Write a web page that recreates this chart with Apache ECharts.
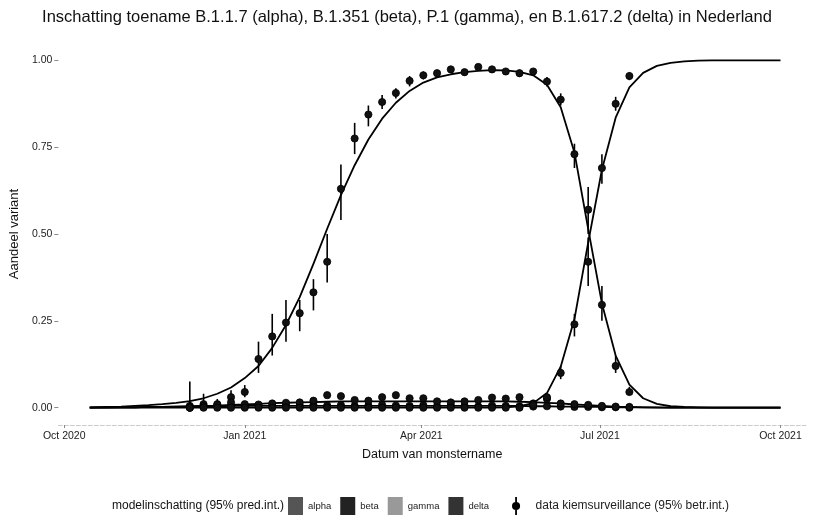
<!DOCTYPE html>
<html><head><meta charset="utf-8">
<script src="https://cdn.jsdelivr.net/npm/echarts@6/dist/echarts.min.js"></script>
<style>html,body{margin:0;padding:0;background:#fff}#c{width:814px;height:520px}</style>
</head><body><div id="c"></div>
<script>
// ---- data ----
const titleText = 'Inschatting toename B.1.1.7 (alpha), B.1.351 (beta), P.1 (gamma), en B.1.617.2 (delta) in Nederland';
const xTickDates = ['2020-10-01','2021-01-01','2021-04-01','2021-07-01','2021-10-01'];
const xTickLabels = ['Oct 2020','Jan 2021','Apr 2021','Jul 2021','Oct 2021'];
const yTicks = [0, 0.25, 0.5, 0.75, 1.0];
const yTickLabels = ['0.00','0.25','0.50','0.75','1.00'];
const variants = ['alpha','beta','gamma','delta'];
const dataName = 'data kiemsurveillance (95% betr.int.)';

const modelDates = ['2020-10-14','2020-10-23','2020-10-30','2020-11-06','2020-11-13','2020-11-20','2020-11-27',
 '2020-12-04','2020-12-11','2020-12-18','2020-12-25','2021-01-01','2021-01-08','2021-01-15','2021-01-22','2021-01-29',
 '2021-02-05','2021-02-12','2021-02-19','2021-02-26','2021-03-05','2021-03-12','2021-03-19','2021-03-26',
 '2021-04-02','2021-04-09','2021-04-16','2021-04-23','2021-04-30','2021-05-07','2021-05-14','2021-05-21','2021-05-28',
 '2021-06-04','2021-06-11','2021-06-18','2021-06-25','2021-07-02','2021-07-09','2021-07-16','2021-07-23','2021-07-30',
 '2021-08-06','2021-08-13','2021-08-20','2021-08-27','2021-09-03','2021-09-10','2021-09-17','2021-09-24','2021-10-01'];
const alphaModel = [0.001,0.002,0.003,0.005,0.007,0.010,0.014,0.019,0.027,0.040,0.058,
 0.085,0.120,0.172,0.238,0.318,0.414,0.515,0.612,0.698,0.772,
 0.832,0.878,0.912,0.936,0.951,0.960,0.966,0.970,0.972,0.971,
 0.967,0.957,0.930,0.865,0.735,0.515,0.300,0.150,0.066,0.027,
 0.011,0.004,0.002,0.001,0,0,0,0,0,0];
const betaModel = [0,0,0.001,0.001,0.002,0.002,0.003,0.003,0.004,0.004,
 0.005,0.005,0.005,0.005,0.005,0.005,0.005,0.005,0.005,0.005,0.005,0.005,0.005,0.005,0.005,0.005,0.005,0.005,0.005,0.005,0.005,
 0.005,0.004,0.004,0.003,0.003,0.002,0.002,0.001,0.001,0.001,
 0,0,0,0,0,0,0,0,0,0];
const gammaModel = [0,0.0005,0.001,0.001,0.002,0.002,0.003,0.004,0.005,0.006,0.008,0.009,0.011,0.013,0.014,0.015,0.016,0.017,
 0.018,0.018,0.018,0.018,0.018,0.018,0.018,0.018,0.018,0.018,0.018,0.018,0.018,
 0.017,0.016,0.014,0.012,0.009,0.007,0.005,0.003,0.002,0.001,
 0.0005,0,0,0,0,0,0,0,0,0];
const deltaModel = [0,0,0,0,0,0,0,0,0,0,0,0,0,0,0,0,0,0,0,0,0,0,0,0,0,0,0,0,0,0,
 0.001,0.004,0.013,0.042,0.118,0.255,0.475,0.685,0.835,0.922,0.964,0.984,0.993,0.997,0.999,
 1,1,1,1,1,1];

const dataDates = ['2020-12-04','2020-12-11','2020-12-18','2020-12-25','2021-01-01','2021-01-08','2021-01-15','2021-01-22',
 '2021-01-29','2021-02-05','2021-02-12','2021-02-19','2021-02-26','2021-03-05','2021-03-12','2021-03-19','2021-03-26',
 '2021-04-02','2021-04-09','2021-04-16','2021-04-23','2021-04-30','2021-05-07','2021-05-14','2021-05-21','2021-05-28',
 '2021-06-04','2021-06-11','2021-06-18','2021-06-25','2021-07-02','2021-07-09','2021-07-16'];
const alphaVal = [0.005,0.010,0.010,0.030,0.045,0.140,0.205,0.245,0.272,0.332,0.420,0.630,0.775,0.844,0.880,0.906,0.941,0.957,0.963,0.974,0.966,0.981,0.974,0.968,0.963,0.968,0.939,0.887,0.730,0.420,0.296,0.120,0.045];
const alphaLo  = [0.000,0.000,0.000,0.015,0.030,0.100,0.150,0.190,0.220,0.280,0.360,0.540,0.730,0.810,0.860,0.890,0.925,0.945,0.952,0.965,0.956,0.973,0.965,0.958,0.952,0.958,0.925,0.870,0.690,0.350,0.250,0.100,0.035];
const alphaHi  = [0.075,0.040,0.025,0.050,0.065,0.190,0.270,0.310,0.310,0.370,0.500,0.700,0.820,0.870,0.900,0.920,0.955,0.968,0.973,0.982,0.975,0.988,0.982,0.977,0.973,0.977,0.952,0.905,0.760,0.490,0.350,0.150,0.060];
const betaVal = [0.000,0.003,0.004,0.005,0.003,0.006,0.005,0.007,0.006,0.008,0.006,0.007,0.005,0.006,0.008,0.006,0.005,0.007,0.004,0.006,0.005,0.004,0.006,0.005,0.004,0.003,0.004,0.003,0.002,0.002,0.001,0.001,0.000];
const betaLo  = [0.000,0.000,0.000,0.001,0.000,0.002,0.002,0.003,0.003,0.004,0.003,0.004,0.002,0.003,0.004,0.003,0.002,0.003,0.002,0.003,0.002,0.001,0.003,0.002,0.001,0.001,0.001,0.001,0.000,0.000,0.000,0.000,0.000];
const betaHi  = [0.012,0.010,0.010,0.011,0.008,0.011,0.009,0.012,0.010,0.013,0.010,0.011,0.009,0.010,0.012,0.010,0.009,0.011,0.008,0.010,0.009,0.008,0.010,0.009,0.008,0.007,0.008,0.007,0.006,0.006,0.005,0.005,0.004];
const gammaVal = [0.000,0.004,0.008,0.015,0.010,0.009,0.012,0.014,0.015,0.020,0.036,0.033,0.022,0.020,0.030,0.036,0.027,0.027,0.018,0.015,0.018,0.022,0.029,0.026,0.030,0.012,0.025,0.012,0.010,0.008,0.005,0.003,0.002];
const gammaLo  = [0.000,0.000,0.002,0.007,0.004,0.004,0.007,0.009,0.010,0.014,0.029,0.027,0.017,0.015,0.024,0.030,0.022,0.022,0.013,0.011,0.013,0.017,0.023,0.021,0.024,0.008,0.019,0.008,0.006,0.004,0.002,0.001,0.000];
const gammaHi  = [0.010,0.013,0.016,0.024,0.017,0.015,0.018,0.020,0.021,0.027,0.044,0.040,0.028,0.026,0.037,0.043,0.033,0.033,0.024,0.020,0.024,0.028,0.036,0.032,0.037,0.017,0.032,0.017,0.015,0.013,0.010,0.007,0.006];
const deltaVal = [0,0,0,0,0,0,0,0,0,0,0,0,0,0,0,0,0,0,0,0,0,0,0,0,0,0.008,0.030,0.100,0.240,0.570,0.690,0.875,0.955];
const deltaLo  = [0,0,0,0,0,0,0,0,0,0,0,0,0,0,0,0,0,0,0,0,0,0,0,0,0,0.003,0.022,0.082,0.205,0.500,0.645,0.855,0.943];
const deltaHi  = [0.004,0.004,0.004,0.004,0.004,0.004,0.004,0.004,0.004,0.004,0.004,0.004,0.004,0.004,0.004,0.004,0.004,0.004,0.004,0.004,0.004,0.004,0.004,0.004,0.004,0.014,0.040,0.120,0.270,0.635,0.730,0.895,0.966];

// ---- chart ----
const FONT = '"Liberation Sans", Arial, sans-serif';
function ts(s){ const p = s.split('-').map(Number); return Date.UTC(p[0], p[1]-1, p[2]); }
const xTickTs = xTickDates.map(ts);

const models = {alpha: alphaModel, beta: betaModel, gamma: gammaModel, delta: deltaModel};
const obs = {
  alpha: [alphaVal, alphaLo, alphaHi], beta: [betaVal, betaLo, betaHi],
  gamma: [gammaVal, gammaLo, gammaHi], delta: [deltaVal, deltaLo, deltaHi]
};

function errRender(params, api){
  const x = api.value(0);
  const p = api.coord([x, api.value(1)]);
  const pl = api.coord([x, api.value(2)]);
  const ph = api.coord([x, api.value(3)]);
  return {type:'group', children:[
    {type:'line', shape:{x1:pl[0], y1:pl[1], x2:ph[0], y2:ph[1]}, style:{stroke:'#000', lineWidth:1.6}},
    {type:'circle', shape:{cx:p[0], cy:p[1], r:3.6}, style:{fill:'#111', stroke:'#000', lineWidth:0.8}}
  ]};
}

const series = [];
variants.forEach(v => {
  series.push({
    name: v, type: 'line', showSymbol: false, smooth: false,
    lineStyle: {color: '#000', width: 1.8, join: 'round'}, itemStyle: {color: '#000'},
    data: modelDates.map((d, i) => [ts(d), models[v][i]]), z: 2, silent: true
  });
});
variants.forEach(v => {
  const [val, lo, hi] = obs[v];
  series.push({
    name: dataName, type: 'custom', renderItem: errRender,
    encode: {x: 0, y: [1, 2, 3]}, itemStyle: {color: '#000'},
    data: dataDates.map((d, i) => [ts(d), val[i], lo[i], hi[i]]), z: 5
  });
});

const chart = echarts.init(document.getElementById('c'), null, {renderer: 'canvas'});
chart.setOption({
  animation: false,
  backgroundColor: '#fff',
  textStyle: {fontFamily: FONT},
  title: [
    {text: titleText, left: 'center', top: 4,
     textStyle: {fontSize: 16.5, fontWeight: 'normal', color: '#111', fontFamily: FONT}},
    {text: 'modelinschatting (95% pred.int.)', left: 107, top: 495,
     textStyle: {fontSize: 12, fontWeight: 'normal', color: '#111', fontFamily: FONT}}
  ],
  grid: {left: 49, right: 8, top: 43, bottom: 95, containLabel: false},
  xAxis: {
    type: 'value', min: ts('2020-09-28'), max: ts('2021-10-14'),
    name: 'Datum van monstername', nameLocation: 'middle', nameGap: 23,
    nameTextStyle: {fontSize: 12.5, color: '#111', fontFamily: FONT},
    axisLine: {show: true, onZero: false, lineStyle: {color: '#ccc', type: 'dashed', width: 1}},
    axisTick: {show: true, customValues: xTickTs, length: 3, lineStyle: {color: '#888'}},
    axisLabel: {customValues: xTickTs, fontSize: 10.5, color: '#222', margin: 6, fontFamily: FONT,
      formatter: (val) => { const i = xTickTs.indexOf(val); return i >= 0 ? xTickLabels[i] : ''; }},
    splitLine: {show: false}
  },
  yAxis: {
    type: 'value', min: -0.05, max: 1.05,
    name: 'Aandeel variant', nameLocation: 'middle', nameGap: 29,
    nameTextStyle: {fontSize: 13, color: '#111', fontFamily: FONT},
    axisLine: {show: false},
    axisTick: {show: true, customValues: yTicks, length: 4, lineStyle: {color: '#888'}},
    axisLabel: {customValues: yTicks, fontSize: 10.5, color: '#222', margin: 6, fontFamily: FONT,
      formatter: (val) => { const i = yTicks.findIndex(t => Math.abs(t - val) < 1e-9); return i >= 0 ? yTickLabels[i] : ''; }},
    splitLine: {show: false}
  },
  legend: [
    {data: [
      {name: 'alpha', icon: 'rect', itemStyle: {color: '#555'}},
      {name: 'beta', icon: 'rect', itemStyle: {color: '#222'}},
      {name: 'gamma', icon: 'rect', itemStyle: {color: '#999'}},
      {name: 'delta', icon: 'rect', itemStyle: {color: '#333'}}
     ],
     left: 283, top: 492, itemWidth: 15, itemHeight: 18, itemGap: 9, selectedMode: false,
     textStyle: {fontSize: 9.5, color: '#222', fontFamily: FONT}},
    {data: [{name: dataName, icon: 'path://M9,0L11,0L11,20L9,20Z M10,5.5A4.5,4.5,0,1,1,9.99,5.5Z', itemStyle: {color: '#000'}}],
     left: 507, top: 492, itemWidth: 9, itemHeight: 18, selectedMode: false,
     textStyle: {fontSize: 12, color: '#222', fontFamily: FONT, padding: [0, 0, 0, 10]}}
  ],
  series: series
});
</script></body></html>
